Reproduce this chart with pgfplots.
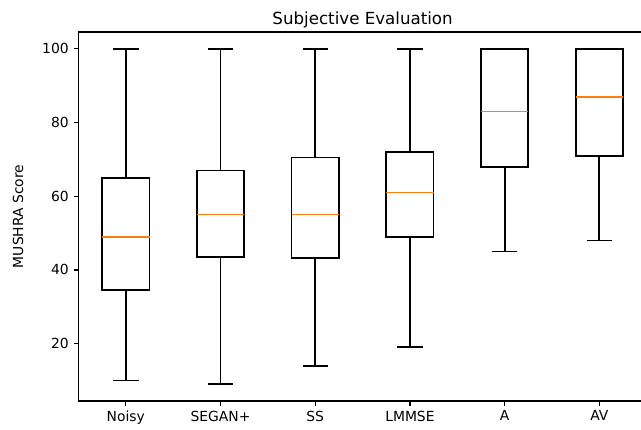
\documentclass[border=0pt]{standalone}
\usepackage{fontspec}
\setmainfont{DejaVu Sans}
\usepackage{pgfplots}
\pgfplotsset{compat=1.18}
\usetikzlibrary{calc}
\definecolor{mplorange}{HTML}{FF7F0E}
% box stats per method (x = 1..6):
% Noisy  10 34.6 49 65   100
% SEGAN+  9 43.5 55 67   100
% SS     14 43.3 55 70.5 100
% LMMSE  19 49   61 72   100
% A      45 68   83 100  100
% AV     48 71   87 100  100
\begin{document}
\begin{tikzpicture}
\begin{axis}[
    scale only axis,
    width=409.1pt, height=265.7pt,
    xmin=0.5, xmax=6.5,
    ymin=4.45, ymax=104.55,
    xtick={1,2,3,4,5,6},
    xticklabels={Noisy,SEGAN+,SS,LMMSE,A,AV},
    ytick={20,40,60,80,100},
    xtick pos=left, ytick pos=left,
    tick align=outside,
    major tick length=3.5pt,
    tick style={black, line width=0.9pt},
    axis line style={black, line width=0.9pt},
    ticklabel style={font=\fontsize{10}{12}\selectfont},
    /pgf/number format/assume math mode=true,
    title={Subjective Evaluation},
    title style={font=\fontsize{12}{14}\selectfont, yshift=-7pt},
    ylabel={MUSHRA Score},
    every axis y label/.style={at={(axis description cs:-0.1065,0.5)}, rotate=90, anchor=center, font=\fontsize{10}{12}\selectfont},
    unbounded coords=jump,
    every axis plot/.append style={line width=1.25pt, line cap=rect, mark=none},
]
\coordinate (O) at (rel axis cs:0,0);
% boxes
\addplot[black] coordinates {
 (0.75,34.6)(1.25,34.6)(1.25,65)(0.75,65)(0.75,34.6) (1,nan)
 (1.75,43.5)(2.25,43.5)(2.25,67)(1.75,67)(1.75,43.5) (2,nan)
 (2.75,43.3)(3.25,43.3)(3.25,70.5)(2.75,70.5)(2.75,43.3) (3,nan)
 (3.75,49)(4.25,49)(4.25,72)(3.75,72)(3.75,49) (4,nan)
 (4.75,68)(5.25,68)(5.25,100)(4.75,100)(4.75,68) (5,nan)
 (5.75,71)(6.25,71)(6.25,100)(5.75,100)(5.75,71)
};
% whiskers
\addplot[black] coordinates {
 (1,34.6)(1,10) (1,nan) (1,65)(1,100) (1,nan)
 (2,43.5)(2,9) (2,nan) (2,67)(2,100) (2,nan)
 (3,43.3)(3,14) (3,nan) (3,70.5)(3,100) (3,nan)
 (4,49)(4,19) (4,nan) (4,72)(4,100) (4,nan)
 (5,68)(5,45) (5,nan)
 (6,71)(6,48)
};
% caps
\addplot[black] coordinates {
 (0.875,10)(1.125,10) (1,nan) (0.875,100)(1.125,100) (1,nan)
 (1.875,9)(2.125,9) (2,nan) (1.875,100)(2.125,100) (2,nan)
 (2.875,14)(3.125,14) (3,nan) (2.875,100)(3.125,100) (3,nan)
 (3.875,19)(4.125,19) (4,nan) (3.875,100)(4.125,100) (4,nan)
 (4.875,45)(5.125,45) (5,nan) (4.875,100)(5.125,100) (5,nan)
 (5.875,48)(6.125,48) (6,nan) (5.875,100)(6.125,100)
};
% medians
\addplot[mplorange, line cap=butt] coordinates {
 (0.75,49)(1.25,49) (1,nan)
 (1.75,55)(2.25,55) (2,nan)
 (2.75,55)(3.25,55) (3,nan)
 (3.75,61)(4.25,61) (4,nan)
 (4.75,83)(5.25,83) (5,nan)
 (5.75,87)(6.25,87)
};
\end{axis}
\pgfresetboundingbox
\path[use as bounding box] ($(O)+(-56.5pt,-20.2pt)$) rectangle ++(461.5pt,308.9pt);
\end{tikzpicture}
\end{document}
